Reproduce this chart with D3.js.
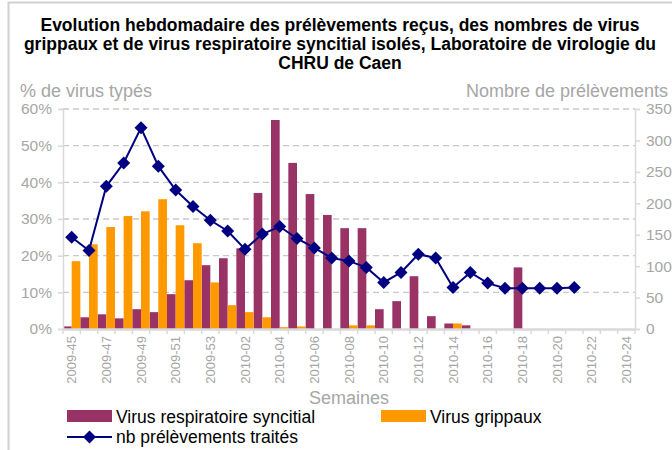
<!DOCTYPE html>
<html>
<head>
<meta charset="utf-8">
<script src="https://cdn.jsdelivr.net/npm/d3@7"></script>
<style>
  body { margin: 0; background: #fff; }
  svg { font-family: "Liberation Sans", Arial, sans-serif; display: block; }
</style>
</head>
<body>
<svg id="chart"></svg>
<script>
// weeks 2009-45 .. 2009-53, then 2010-01 .. 2010-24
const weeks = [
  "2009-45","2009-46","2009-47","2009-48","2009-49","2009-50","2009-51","2009-52","2009-53",
  "2010-01","2010-02","2010-03","2010-04","2010-05","2010-06","2010-07","2010-08","2010-09",
  "2010-10","2010-11","2010-12","2010-13","2010-14","2010-15","2010-16","2010-17","2010-18",
  "2010-19","2010-20","2010-21","2010-22","2010-23","2010-24"
];

// % of typed viruses
const rsv = [0.007,0.032,0.040,0.029,0.054,0.046,0.095,0.133,0.174,
  0.193,0.220,0.371,0.570,0.453,0.368,0.311,0.275,0.275,
  0.054,0.076,0.144,0.035,0.015,0.010,0,0,0.168,
  0,0,0,0,0,0];
const flu = [0.185,0.231,0.278,0.308,0.321,0.354,0.283,0.234,0.127,
  0.065,0.046,0.032,0.005,0.007,0,0,0.010,0.010,
  0,0,0,0,0.015,0,0,0,0,
  0,0,0,0,0,0];

// nb prélèvements traités (ends at 2010-21)
const samples = [146,125,227,264,320,259,221,195,173,
  156,127,151,163,144,129,113,108,98,
  74,90,119,113,66,90,73,65,65,
  65,65,66];

const leftTicks = [0,0.1,0.2,0.3,0.4,0.5,0.6];
const rightTicks = [0,50,100,150,200,250,300,350];

const width = 672, height = 450;
const plot = { left: 63, right: 635, top: 109, bottom: 329 };
const grey = "#a6a6a6";

const svg = d3.select("#chart").attr("width", width).attr("height", height);

// frame
svg.append("path")
  .attr("d", `M8.5,${height}V2.5H${width}`)
  .attr("fill", "none")
  .attr("stroke", "#d0d0d0")
  .attr("stroke-width", 2);

// title
const titleLines = [
  "Evolution hebdomadaire des prélèvements reçus, des nombres de virus",
  "grippaux et de virus respiratoire syncitial isolés, Laboratoire de virologie du",
  "CHRU de Caen"
];
svg.append("g").selectAll("text")
  .data(titleLines)
  .join("text")
  .attr("x", 340)
  .attr("y", (d, i) => 31 + i * 19)
  .attr("text-anchor", "middle")
  .attr("font-size", 17.5)
  .attr("font-weight", "bold")
  .attr("fill", "#000")
  .text(d => d);

const x = d3.scaleBand().domain(weeks).range([plot.left, plot.right]).padding(0);
const yPct = d3.scaleLinear().domain([0, 0.6]).range([plot.bottom, plot.top]);
const yNb = d3.scaleLinear().domain([0, 350]).range([plot.bottom, plot.top]);

// grid
svg.append("g").selectAll("line")
  .data(leftTicks.slice(1))
  .join("line")
  .attr("x1", plot.left).attr("x2", plot.right)
  .attr("y1", d => yPct(d)).attr("y2", d => yPct(d))
  .attr("stroke", "#c8c8c8")
  .attr("stroke-width", 1.3)
  .attr("stroke-dasharray", "6,4");

// bars
const bw = x.bandwidth() / 2;
svg.append("g").selectAll("rect")
  .data(weeks.map((w, i) => ({ w, v: rsv[i] })).filter(d => d.v > 0))
  .join("rect")
  .attr("x", d => x(d.w))
  .attr("width", bw)
  .attr("y", d => yPct(d.v))
  .attr("height", d => plot.bottom - yPct(d.v))
  .attr("fill", "#993366");

svg.append("g").selectAll("rect")
  .data(weeks.map((w, i) => ({ w, v: flu[i] })).filter(d => d.v > 0))
  .join("rect")
  .attr("x", d => x(d.w) + bw)
  .attr("width", bw)
  .attr("y", d => yPct(d.v))
  .attr("height", d => plot.bottom - yPct(d.v))
  .attr("fill", "#ff9900");

// left axis
const leftAxis = svg.append("g")
  .attr("transform", `translate(${plot.left},0)`)
  .call(d3.axisLeft(yPct).tickValues(leftTicks).tickFormat(d3.format(".0%")).tickSize(5).tickPadding(6));
// right axis
const rightAxis = svg.append("g")
  .attr("transform", `translate(${plot.right},0)`)
  .call(d3.axisRight(yNb).tickValues(rightTicks).tickSize(5).tickPadding(6));

[leftAxis, rightAxis].forEach(a => {
  a.select(".domain").attr("stroke", "#d9d9d9").attr("stroke-width", 1.5);
  a.selectAll(".tick line").attr("stroke", "#d9d9d9").attr("stroke-width", 1.5);
  a.selectAll("text").attr("fill", grey).attr("font-size", 15.5).attr("font-family", "Liberation Sans, Arial, sans-serif");
});

// x axis
const xAxis = svg.append("g")
  .attr("transform", `translate(0,${plot.bottom})`)
  .call(d3.axisBottom(x).tickValues(weeks.filter((d, i) => i % 2 === 0)).tickSize(0).tickPadding(0));
xAxis.select(".domain").attr("stroke", "#d9d9d9").attr("stroke-width", 2.5);
xAxis.selectAll("text")
  .attr("transform", "rotate(-90)")
  .attr("text-anchor", "end")
  .attr("x", -7)
  .attr("y", 0)
  .attr("dy", "0.35em")
  .attr("fill", grey)
  .attr("font-size", 13)
  .attr("font-family", "Liberation Sans, Arial, sans-serif");
xAxis.append("g").selectAll("line")
  .data(weeks.concat([null]))
  .join("line")
  .attr("x1", (d, i) => plot.left + i * x.step())
  .attr("x2", (d, i) => plot.left + i * x.step())
  .attr("y1", 0).attr("y2", 5)
  .attr("stroke", "#d9d9d9")
  .attr("stroke-width", 1.5);

// line + markers
const diamond = "M0,-6.5L6.5,0L0,6.5L-6.5,0Z";
const cx = i => x(weeks[i]) + x.bandwidth() / 2;
svg.append("path")
  .datum(samples)
  .attr("d", d3.line().x((d, i) => cx(i)).y(d => yNb(d)))
  .attr("fill", "none")
  .attr("stroke", "#000080")
  .attr("stroke-width", 2);
svg.append("g").selectAll("path")
  .data(samples)
  .join("path")
  .attr("transform", (d, i) => `translate(${cx(i)},${yNb(d)})`)
  .attr("d", diamond)
  .attr("fill", "#000080");

// axis titles
svg.append("text").attr("x", 20).attr("y", 97)
  .attr("font-size", 18).attr("fill", grey).text("% de virus typés");
svg.append("text").attr("x", 668).attr("y", 97).attr("text-anchor", "end")
  .attr("font-size", 18).attr("fill", grey).text("Nombre de prélèvements");
svg.append("text").attr("x", 349).attr("y", 404).attr("text-anchor", "middle")
  .attr("font-size", 18).attr("fill", grey).text("Semaines");

// legend
const legend = svg.append("g");
legend.append("rect").attr("x", 67).attr("y", 410).attr("width", 45).attr("height", 12).attr("fill", "#993366");
legend.append("text").attr("x", 116).attr("y", 423).attr("font-size", 17.5).attr("fill", "#000").text("Virus respiratoire syncitial");
legend.append("rect").attr("x", 381).attr("y", 410).attr("width", 45).attr("height", 12).attr("fill", "#ff9900");
legend.append("text").attr("x", 430).attr("y", 423).attr("font-size", 17.5).attr("fill", "#000").text("Virus grippaux");
legend.append("line").attr("x1", 67).attr("x2", 112).attr("y1", 437).attr("y2", 437).attr("stroke", "#000080").attr("stroke-width", 2);
legend.append("path").attr("transform", "translate(89.5,437)").attr("d", diamond).attr("fill", "#000080");
legend.append("text").attr("x", 116).attr("y", 443).attr("font-size", 17.5).attr("fill", "#000").text("nb prélèvements traités");
</script>
</body>
</html>
